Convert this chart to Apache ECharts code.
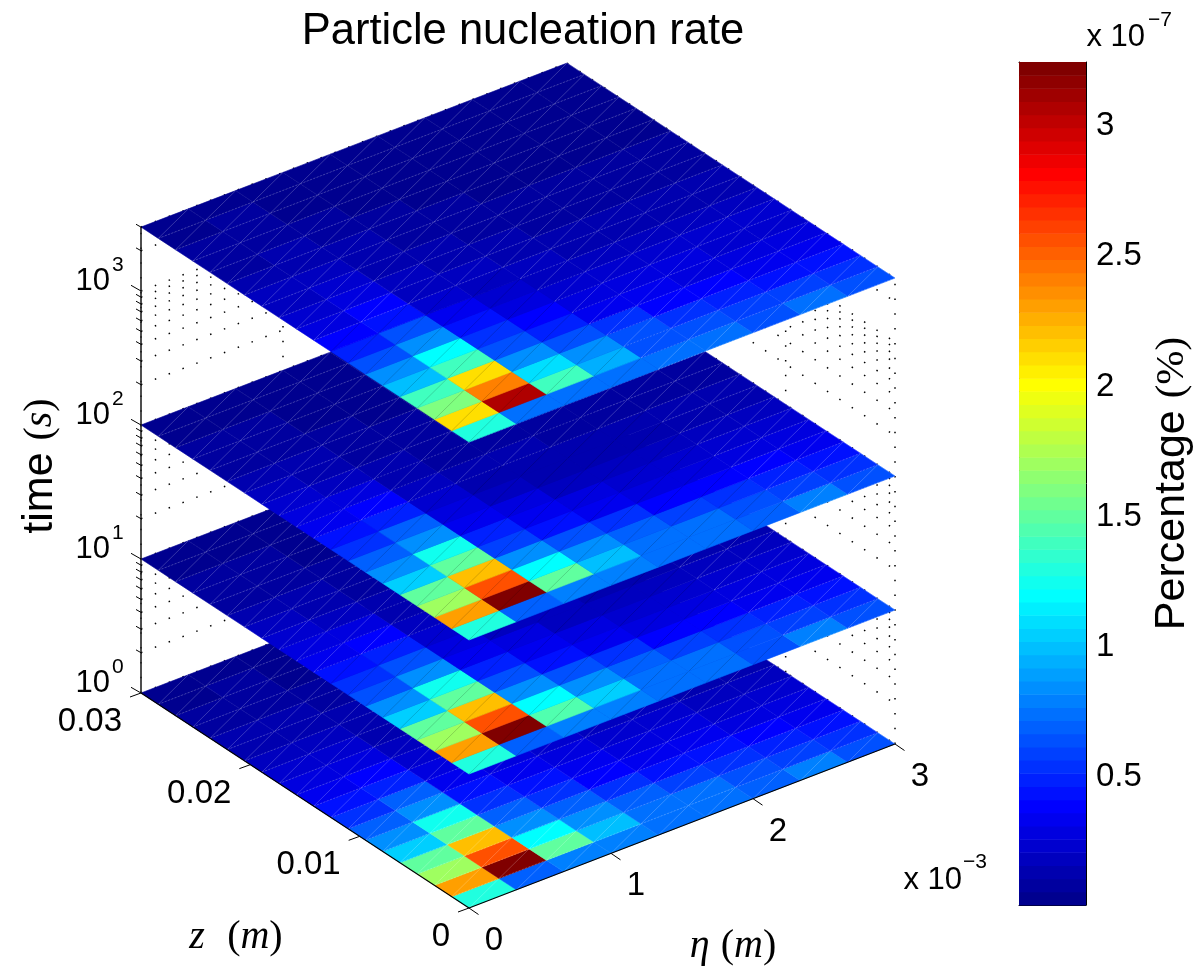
<!DOCTYPE html>
<html>
<head>
<meta charset="utf-8">
<style>
  html, body { margin: 0; padding: 0; background: #fff; }
  #chart { width: 1195px; height: 973px; }
</style>
<script src="https://cdn.jsdelivr.net/npm/echarts@6/dist/echarts.min.js"></script>
</head>
<body>
<div id="chart"></div>
<script>
// grid of the surfaces
const etaGrid = [0, 0.000333, 0.000667, 0.001, 0.001333, 0.001667, 0.002, 0.002333, 0.002667, 0.003];
const zGrid = [0, 0.00158, 0.00316, 0.00474, 0.00632, 0.00789, 0.00947, 0.01105, 0.01263, 0.01421,
  0.01579, 0.01737, 0.01895, 0.02053, 0.02211, 0.02368, 0.02526, 0.02684, 0.02842, 0.03];
const sliceTimes = [1, 10, 100, 3000];

// percentage (x 1e-7), one row per z cell, front row first
const rate1 = [
  [1.30, 0.68, 0.80, 0.80, 0.74, 0.76, 0.68, 0.78, 0.62],
  [2.30, 3.22, 1.48, 1.02, 0.76, 0.72, 0.62, 0.60, 0.54],
  [1.72, 2.56, 1.20, 0.86, 0.68, 0.58, 0.54, 0.50, 0.45],
  [1.52, 2.20, 0.86, 0.68, 0.56, 0.46, 0.42, 0.38, 0.34],
  [1.04, 1.50, 0.68, 0.52, 0.40, 0.35, 0.32, 0.30, 0.27],
  [0.85, 1.26, 0.56, 0.42, 0.33, 0.29, 0.27, 0.25, 0.22],
  [0.68, 0.85, 0.44, 0.33, 0.28, 0.25, 0.22, 0.20, 0.18],
  [0.54, 0.68, 0.34, 0.27, 0.23, 0.20, 0.18, 0.16, 0.15],
  [0.42, 0.50, 0.28, 0.23, 0.19, 0.16, 0.14, 0.13, 0.12],
  [0.33, 0.38, 0.22, 0.19, 0.15, 0.13, 0.11, 0.10, 0.09],
  [0.28, 0.30, 0.18, 0.15, 0.12, 0.10, 0.09, 0.08, 0.08],
  [0.22, 0.23, 0.15, 0.12, 0.10, 0.08, 0.07, 0.07, 0.06],
  [0.18, 0.18, 0.12, 0.09, 0.07, 0.07, 0.06, 0.06, 0.05],
  [0.14, 0.14, 0.11, 0.07, 0.06, 0.05, 0.05, 0.05, 0.04],
  [0.11, 0.11, 0.09, 0.06, 0.05, 0.04, 0.04, 0.04, 0.04],
  [0.08, 0.09, 0.07, 0.05, 0.04, 0.04, 0.03, 0.03, 0.03],
  [0.06, 0.07, 0.05, 0.04, 0.03, 0.03, 0.03, 0.03, 0.03],
  [0.05, 0.06, 0.04, 0.03, 0.03, 0.03, 0.03, 0.03, 0.03],
  [0.04, 0.04, 0.03, 0.03, 0.03, 0.03, 0.03, 0.03, 0.03]
];
const rate10 = [
  [1.30, 0.68, 0.78, 0.80, 0.74, 0.76, 0.66, 0.78, 0.62],
  [2.30, 3.22, 1.46, 1.03, 0.74, 0.72, 0.62, 0.60, 0.54],
  [1.72, 2.56, 1.20, 0.85, 0.68, 0.58, 0.52, 0.48, 0.44],
  [1.50, 2.20, 0.85, 0.66, 0.54, 0.40, 0.37, 0.36, 0.35],
  [1.04, 1.50, 0.62, 0.44, 0.33, 0.30, 0.28, 0.28, 0.28],
  [0.85, 1.26, 0.50, 0.34, 0.27, 0.24, 0.23, 0.23, 0.24],
  [0.66, 0.85, 0.36, 0.27, 0.21, 0.20, 0.19, 0.19, 0.20],
  [0.52, 0.66, 0.28, 0.21, 0.17, 0.16, 0.15, 0.15, 0.16],
  [0.42, 0.48, 0.22, 0.17, 0.14, 0.12, 0.11, 0.12, 0.13],
  [0.33, 0.37, 0.18, 0.14, 0.11, 0.10, 0.09, 0.10, 0.10],
  [0.27, 0.28, 0.15, 0.11, 0.09, 0.08, 0.07, 0.08, 0.08],
  [0.22, 0.21, 0.12, 0.09, 0.07, 0.06, 0.06, 0.06, 0.07],
  [0.17, 0.15, 0.10, 0.07, 0.06, 0.05, 0.05, 0.05, 0.05],
  [0.13, 0.12, 0.08, 0.06, 0.05, 0.04, 0.04, 0.04, 0.04],
  [0.10, 0.09, 0.07, 0.05, 0.04, 0.04, 0.04, 0.04, 0.04],
  [0.08, 0.08, 0.05, 0.04, 0.04, 0.03, 0.03, 0.03, 0.03],
  [0.06, 0.06, 0.04, 0.04, 0.03, 0.03, 0.03, 0.03, 0.03],
  [0.05, 0.05, 0.04, 0.03, 0.03, 0.03, 0.03, 0.03, 0.03],
  [0.04, 0.04, 0.03, 0.03, 0.03, 0.03, 0.03, 0.03, 0.03]
];
const rate100 = [
  [1.30, 0.68, 0.80, 0.80, 0.76, 0.76, 0.68, 0.78, 0.62],
  [2.30, 3.22, 1.48, 1.02, 0.76, 0.72, 0.62, 0.60, 0.54],
  [1.72, 2.56, 1.20, 0.84, 0.68, 0.58, 0.54, 0.50, 0.45],
  [1.52, 2.22, 0.84, 0.66, 0.54, 0.41, 0.38, 0.37, 0.35],
  [1.04, 1.50, 0.60, 0.44, 0.33, 0.30, 0.28, 0.28, 0.28],
  [0.85, 1.26, 0.48, 0.34, 0.27, 0.24, 0.23, 0.22, 0.24],
  [0.70, 0.85, 0.36, 0.27, 0.21, 0.19, 0.18, 0.18, 0.20],
  [0.54, 0.68, 0.27, 0.20, 0.16, 0.15, 0.14, 0.14, 0.16],
  [0.44, 0.50, 0.22, 0.16, 0.13, 0.12, 0.11, 0.11, 0.13],
  [0.33, 0.37, 0.17, 0.13, 0.11, 0.10, 0.09, 0.09, 0.10],
  [0.27, 0.28, 0.14, 0.10, 0.09, 0.08, 0.07, 0.07, 0.08],
  [0.22, 0.20, 0.11, 0.08, 0.07, 0.06, 0.06, 0.06, 0.07],
  [0.17, 0.15, 0.09, 0.07, 0.06, 0.05, 0.05, 0.05, 0.05],
  [0.13, 0.12, 0.08, 0.06, 0.05, 0.04, 0.04, 0.04, 0.04],
  [0.10, 0.09, 0.07, 0.05, 0.04, 0.04, 0.04, 0.04, 0.04],
  [0.08, 0.08, 0.05, 0.04, 0.04, 0.03, 0.03, 0.03, 0.03],
  [0.06, 0.06, 0.04, 0.04, 0.03, 0.03, 0.03, 0.03, 0.03],
  [0.05, 0.05, 0.04, 0.03, 0.03, 0.03, 0.03, 0.03, 0.03],
  [0.04, 0.04, 0.03, 0.03, 0.03, 0.03, 0.03, 0.03, 0.03]
];
const rate3000 = [
  [1.30, 0.72, 0.76, 0.76, 0.72, 0.76, 0.65, 0.76, 0.62],
  [2.13, 3.07, 1.40, 0.93, 0.66, 0.65, 0.60, 0.57, 0.54],
  [1.60, 2.41, 1.10, 0.85, 0.62, 0.54, 0.50, 0.46, 0.42],
  [1.40, 2.13, 0.85, 0.62, 0.54, 0.39, 0.38, 0.36, 0.36],
  [1.00, 1.40, 0.62, 0.48, 0.36, 0.33, 0.31, 0.30, 0.30],
  [0.85, 1.20, 0.52, 0.38, 0.31, 0.28, 0.27, 0.26, 0.26],
  [0.62, 0.85, 0.42, 0.31, 0.26, 0.24, 0.22, 0.22, 0.22],
  [0.50, 0.65, 0.33, 0.26, 0.21, 0.19, 0.18, 0.18, 0.18],
  [0.39, 0.44, 0.26, 0.21, 0.17, 0.15, 0.14, 0.15, 0.15],
  [0.31, 0.39, 0.21, 0.17, 0.14, 0.12, 0.11, 0.12, 0.12],
  [0.26, 0.30, 0.18, 0.14, 0.11, 0.10, 0.09, 0.09, 0.10],
  [0.21, 0.24, 0.15, 0.11, 0.09, 0.08, 0.07, 0.07, 0.08],
  [0.17, 0.19, 0.12, 0.09, 0.07, 0.06, 0.06, 0.06, 0.06],
  [0.13, 0.15, 0.12, 0.07, 0.06, 0.05, 0.05, 0.05, 0.05],
  [0.10, 0.11, 0.09, 0.06, 0.05, 0.04, 0.04, 0.04, 0.04],
  [0.08, 0.09, 0.07, 0.05, 0.04, 0.04, 0.03, 0.03, 0.03],
  [0.06, 0.08, 0.05, 0.04, 0.03, 0.03, 0.03, 0.03, 0.03],
  [0.05, 0.06, 0.04, 0.03, 0.03, 0.03, 0.03, 0.03, 0.03],
  [0.04, 0.04, 0.03, 0.03, 0.03, 0.03, 0.03, 0.03, 0.03]
];
const sliceRates = [rate1, rate10, rate100, rate3000];

// axis ticks
const etaTicks = [0, 0.001, 0.002, 0.003];
const etaTickLabels = ["0", "1", "2", "3"];
const zTicks = [0, 0.01, 0.02, 0.03];
const zTickLabels = ["0", "0.01", "0.02", "0.03"];
const timeDecades = [1, 10, 100, 1000];
const timeDecadeExps = ["0", "1", "2", "3"];
const timeMinors = [2, 3, 4, 5, 6, 7, 8, 9, 20, 30, 40, 50, 60, 70, 80, 90,
  200, 300, 400, 500, 600, 700, 800, 900, 2000, 3000];
const colorMin = 0.0085;
const colorMax = 3.246;
const colorLevelCount = 64;
const colorTicks = [0.5, 1, 1.5, 2, 2.5, 3];

const sansFont = '"Liberation Sans"';
const serifFont = '"Liberation Serif"';
const black = "#000";
const tickFontSize = 33;
const powerFontSize = 31;

// oblique view: where the origin sits and how far one full axis reaches
const view = {
  x0: 469, y0: 908,
  etaDx: 426 / 0.003, etaDy: -164 / 0.003,
  zDx: -328 / 0.03, zDy: -215 / 0.03,
  decadeDy: -134,
};
function project(eta, z, t) {
  return [
    view.x0 + eta * view.etaDx + z * view.zDx,
    view.y0 + eta * view.etaDy + z * view.zDy + Math.log10(t) * view.decadeDy,
  ];
}
const etaMax = etaTicks[3];
const zMax = zTicks[3];
const timeMax = sliceTimes[3];

// matlab jet
function levelColor(k) {
  const x = (k + 1) / colorLevelCount;
  const c = (a) => Math.round(Math.max(0, Math.min(1, a)) * 255);
  const r = c(Math.min(4 * x - 1.5, -4 * x + 4.5));
  const g = c(Math.min(4 * x - 0.5, -4 * x + 3.5));
  const b = c(Math.min(4 * x + 0.5, -4 * x + 2.5));
  return "rgb(" + r + "," + g + "," + b + ")";
}
function rateColor(v) {
  const k = Math.floor(((v - colorMin) / (colorMax - colorMin)) * colorLevelCount);
  return levelColor(Math.max(0, Math.min(colorLevelCount - 1, k)));
}

function seam(a, b, stroke, width, dash) {
  return {
    type: "line",
    shape: { x1: a[0], y1: a[1], x2: b[0], y2: b[1] },
    style: { stroke: stroke, lineWidth: width, lineDash: dash || null },
  };
}

function text(x, y, str, size, align, extra) {
  return {
    type: "text",
    style: Object.assign({
      x: x, y: y, text: str, fill: black,
      fontFamily: sansFont, fontSize: size,
      align: align || "center", verticalAlign: "middle",
    }, extra || {}),
  };
}

// one surface cell, two triangles that show their seam in the print
function renderCell(params, api) {
  const s = api.value(0);
  const i = api.value(1);
  const j = api.value(2);
  const v = api.value(3);
  const t = sliceTimes[s];
  const at = (a, b) => api.coord(project(etaGrid[a], zGrid[b], t));
  const p00 = at(i, j);
  const p10 = at(i + 1, j);
  const p11 = at(i + 1, j + 1);
  const p01 = at(i, j + 1);
  const color = rateColor(v);
  const children = [{
    type: "polygon",
    shape: { points: [p00, p10, p11, p01] },
    style: { fill: color, stroke: color, lineWidth: 0.6 },
  }];
  const darkZone = (s === 3 && i <= 3 && j <= 8) || ((s === 1 || s === 2) && i <= 6 && j <= 8);
  if (darkZone) {
    children.push(seam(p00, p11, "rgba(0,0,0,0.28)", 0.6));
  } else {
    children.push(seam(p00, p11, "rgba(255,255,255,0.3)", 0.7));
    children.push(seam(p00, p10, "rgba(255,255,255,0.3)", 0.7, [2, 1.5]));
    children.push(seam(p10, p11, "rgba(255,255,255,0.2)", 0.7));
  }
  return { type: "group", children: children };
}

// dotted grid on the two back walls
function dotted(a, b) {
  return {
    type: "line",
    shape: { x1: a[0], y1: a[1], x2: b[0], y2: b[1] },
    style: { stroke: black, lineWidth: 1.5, lineDash: [1.5, 13.3] },
  };
}
function renderWallLevel(params, api) {
  const t = api.value(0);
  const c = (p) => api.coord(p);
  return {
    type: "group",
    children: [
      dotted(c(project(0, zMax, t)), c(project(etaMax, zMax, t))),
      dotted(c(project(etaMax, zMax, t)), c(project(etaMax, 0, t))),
    ],
  };
}
function renderWallColumn(params, api) {
  const eta = api.value(0);
  const z = api.value(1);
  return dotted(api.coord(project(eta, z, 1)), api.coord(project(eta, z, timeMax)));
}

function tickLine(p, dx, dy, width) {
  return {
    type: "line",
    shape: { x1: p[0], y1: p[1], x2: p[0] + dx, y2: p[1] + dy },
    style: { stroke: black, lineWidth: width || 1 },
  };
}

function renderAxes(params, api) {
  const c = (p) => api.coord(p);
  const line = (a, b, w, col) => ({
    type: "line",
    shape: { x1: a[0], y1: a[1], x2: b[0], y2: b[1] },
    style: { stroke: col || black, lineWidth: w },
  });
  return {
    type: "group",
    children: [
      line(c(project(0, zMax, 1)), c(project(0, 0, 1)), 1.1),
      line(c(project(0, 0, 1)), c(project(etaMax, 0, 1)), 1.1),
      line(c(project(0, zMax, 1)), c(project(0, zMax, timeMax)), 1.6, "#222"),
    ],
  };
}
function renderEtaTick(params, api) {
  const p = api.coord(project(api.value(0), 0, 1));
  return {
    type: "group",
    children: [
      tickLine(p, 9.5, 6.5),
      text(p[0] + 25, p[1] + 33, etaTickLabels[params.dataIndex], tickFontSize),
    ],
  };
}
function renderZTick(params, api) {
  const p = api.coord(project(0, api.value(0), 1));
  return {
    type: "group",
    children: [
      tickLine(p, -11, 4),
      text(p[0] - 19, p[1] + 29, zTickLabels[params.dataIndex], tickFontSize, "right"),
    ],
  };
}
function renderTimeTick(params, api) {
  const p = api.coord(project(0, zMax, api.value(0)));
  return {
    type: "group",
    children: [
      tickLine(p, -10, -5.7),
      text(p[0] - 31, p[1] - 9.5, "10", powerFontSize, "right"),
      text(p[0] - 29, p[1] - 26, timeDecadeExps[params.dataIndex], 21, "left"),
    ],
  };
}
function renderTimeMinor(params, api) {
  const p = api.coord(project(0, zMax, api.value(0)));
  const q = [p[0] + 1, p[1] + 0.6];
  return tickLine(q, -6, -3.4);
}

function renderColorLevel(params, api) {
  const k = api.value(0);
  const step = (colorMax - colorMin) / colorLevelCount;
  const a = api.coord([0, colorMin + k * step]);
  const b = api.coord([1, colorMin + (k + 1) * step]);
  return {
    type: "rect",
    shape: { x: a[0], y: b[1], width: b[0] - a[0], height: a[1] - b[1] + 0.5 },
    style: { fill: levelColor(k) },
  };
}

function renderFreeText() {
  const mathRich = {
    s: { fontFamily: sansFont, fontSize: 43, fill: black },
    u: { fontFamily: serifFont, fontSize: 40, fill: black },
    i: { fontFamily: serifFont, fontStyle: "italic", fontSize: 40, fill: black },
  };
  const timeLabel = {
    type: "text",
    x: 40, y: 466, rotation: Math.PI / 2,
    style: {
      text: "{s|time }{u|(}{i|s}{u|)}", rich: mathRich,
      align: "center", verticalAlign: "middle",
    },
  };
  const etaLabel = text(733, 946, "{i|η} {u|(}{i|m}{u|)}", 40, "center", { rich: mathRich });
  const zLabel = text(236, 937, "{i|z}  {u|(}{i|m}{u|)}", 40, "center", { rich: mathRich });
  return {
    type: "group",
    children: [
      timeLabel, etaLabel, zLabel,
      text(962, 880, "x 10", powerFontSize, "right"),
      text(963, 862, "−3", 21, "left"),
      text(1145, 37, "x 10", powerFontSize, "right"),
      text(1148, 20, "−7", 21, "left"),
    ],
  };
}

// series data
const cellData = [];
sliceRates.forEach(function (rows, s) {
  rows.forEach(function (row, j) {
    row.forEach(function (v, i) {
      cellData.push([s, i, j, v]);
    });
  });
});
const levelTimes = timeDecades.concat(timeMinors);
const wallColumns = [];
etaTicks.forEach(function (eta) { wallColumns.push([eta, zMax]); });
zTicks.slice(0, 3).forEach(function (z) { wallColumns.push([etaMax, z]); });
const colorLevels = [];
for (let k = 0; k < colorLevelCount; k++) colorLevels.push([k]);

function plain(name, data, renderItem, extra) {
  return Object.assign({
    name: name,
    type: "custom",
    xAxisIndex: 0,
    yAxisIndex: 0,
    coordinateSystem: "cartesian2d",
    clip: false,
    silent: true,
    progressive: 0,
    animation: false,
    data: data,
    renderItem: renderItem,
  }, extra || {});
}

const chart = echarts.init(document.getElementById("chart"));
const option = {
  animation: false,
  backgroundColor: "#fff",
  title: {
    text: "Particle nucleation rate",
    left: 518,
    top: 5,
    textAlign: "center",
    textStyle: { fontFamily: sansFont, fontSize: 43.5, fontWeight: "normal", color: black },
  },
  grid: [
    { left: 0, top: 0, width: 1195, height: 973, outerBoundsMode: "none" },
    { left: 1019, top: 62, width: 67, height: 843, outerBoundsMode: "none" },
  ],
  xAxis: [
    { type: "value", gridIndex: 0, min: 0, max: 1195, show: false },
    {
      type: "value", gridIndex: 1, min: 0, max: 1, position: "bottom",
      axisLine: { onZero: false, lineStyle: { color: black, width: 1 } },
      axisTick: { show: false }, axisLabel: { show: false }, splitLine: { show: false },
    },
    {
      type: "value", gridIndex: 1, min: 0, max: 1, position: "top",
      axisLine: { onZero: false, lineStyle: { color: black, width: 1 } },
      axisTick: { show: false }, axisLabel: { show: false }, splitLine: { show: false },
    },
  ],
  yAxis: [
    { type: "value", gridIndex: 0, min: 0, max: 973, inverse: true, show: false },
    {
      type: "value", gridIndex: 1, min: colorMin, max: colorMax, position: "right",
      axisLine: { onZero: false, lineStyle: { color: black, width: 1 } },
      axisTick: { inside: true, length: 8, customValues: colorTicks, lineStyle: { color: black, width: 1 } },
      axisLabel: {
        customValues: colorTicks, margin: 10,
        fontFamily: sansFont, fontSize: tickFontSize, color: black,
        formatter: (v) => String(v),
      },
      splitLine: { show: false },
      name: "{a|Percentage }{b|(%)}",
      nameLocation: "middle",
      nameRotate: 90,
      nameGap: 65,
      nameTextStyle: {
        rich: {
          a: { fontFamily: sansFont, fontSize: 43, color: black },
          b: { fontFamily: serifFont, fontSize: 41, color: black },
        },
      },
    },
    {
      type: "value", gridIndex: 1, min: colorMin, max: colorMax, position: "left",
      axisLine: { onZero: false, lineStyle: { color: black, width: 1 } },
      axisTick: { inside: true, length: 8, customValues: colorTicks, lineStyle: { color: black, width: 1 } },
      axisLabel: { show: false },
      splitLine: { show: false },
    },
  ],
  series: [
    plain("wall levels", levelTimes.map((t) => [t]), renderWallLevel, { z: 1 }),
    plain("wall columns", wallColumns, renderWallColumn, { z: 1 }),
    plain("surfaces", cellData, renderCell, { z: 2 }),
    plain("axes", [[0]], renderAxes, { z: 3 }),
    plain("eta ticks", etaTicks.map((v) => [v]), renderEtaTick, { z: 3 }),
    plain("z ticks", zTicks.map((v) => [v]), renderZTick, { z: 3 }),
    plain("time ticks", timeDecades.map((v) => [v]), renderTimeTick, { z: 3 }),
    plain("time minor ticks", timeMinors.map((v) => [v]), renderTimeMinor, { z: 3 }),
    plain("labels", [[0]], renderFreeText, { z: 3 }),
    plain("colorbar", colorLevels, renderColorLevel, { xAxisIndex: 1, yAxisIndex: 1, z: 1 }),
  ],
};
option && chart.setOption(option);
</script>
</body>
</html>
